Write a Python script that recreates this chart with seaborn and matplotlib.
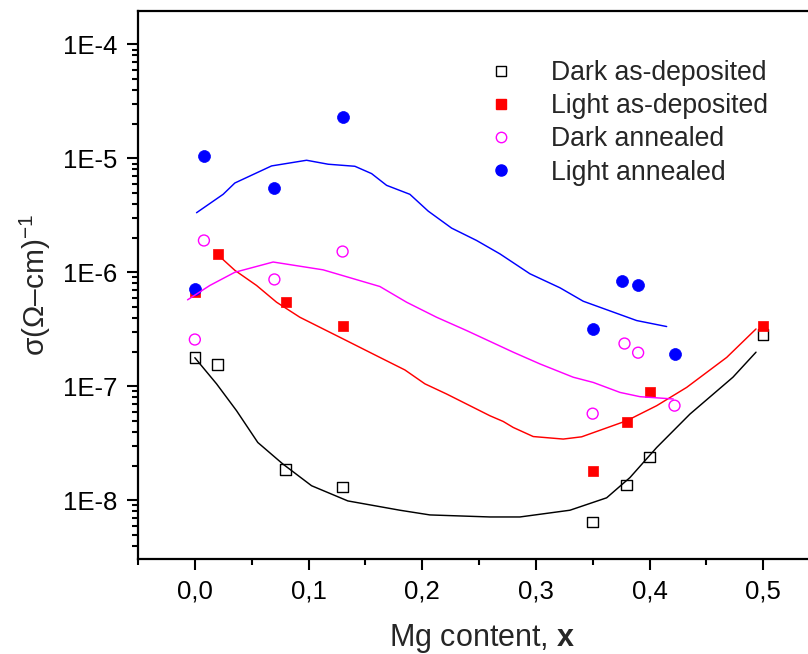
import numpy as np
import pandas as pd
import matplotlib
matplotlib.use("Agg")
import matplotlib.pyplot as plt
import seaborn as sns
from matplotlib.ticker import FixedLocator, FuncFormatter, LogLocator, NullFormatter
from matplotlib.lines import Line2D

# ---------------- data ----------------
x_pts = [0.0, 0.02, 0.08, 0.13, 0.35, 0.38, 0.40, 0.50]
dark_asdep = [1.78e-7, 1.55e-7, 1.85e-8, 1.31e-8, 6.45e-9, 1.36e-8, 2.4e-8, 2.85e-7]
light_asdep = [6.65e-7, 1.44e-6, 5.43e-7, 3.41e-7, 1.81e-8, 4.88e-8, 8.96e-8, 3.41e-7]

x_ann = [0.0, 0.008, 0.07, 0.13, 0.35, 0.378, 0.39, 0.422]
dark_ann = [2.57e-7, 1.9e-6, 8.65e-7, 1.52e-6, 5.75e-8, 2.37e-7, 1.97e-7, 6.76e-8]
x_ann_l = [0.0, 0.008, 0.07, 0.13, 0.35, 0.376, 0.39, 0.422]
light_ann = [7.2e-7, 1.04e-5, 5.45e-6, 2.29e-5, 3.2e-7, 8.3e-7, 7.66e-7, 1.9e-7]

# fitted curves
fit_dark_asdep_x = [0.0, 0.0191, 0.0367, 0.0554, 0.0774, 0.1027, 0.1346, 0.1804, 0.2068,
                    0.2596, 0.286, 0.33, 0.3623, 0.3828, 0.4063, 0.4356, 0.4734, 0.4937]
fit_dark_asdep_y = [1.78e-7, 1.05e-7, 6.10e-8, 3.21e-8, 2.08e-8, 1.34e-8, 9.86e-9, 8.17e-9, 7.43e-9,
                    7.13e-9, 7.13e-9, 8.17e-9, 1.05e-8, 1.58e-8, 2.90e-8, 5.70e-8, 1.20e-7, 1.99e-7]

fit_light_asdep_x = [0.02, 0.0352, 0.0543, 0.0719, 0.0924, 0.1305, 0.1628, 0.1848, 0.2024, 0.2215,
                     0.2596, 0.2713, 0.2801, 0.2977, 0.3241, 0.3403, 0.3799, 0.4063, 0.4327,
                     0.4679, 0.4937]
fit_light_asdep_y = [1.43e-6, 1.04e-6, 7.66e-7, 5.46e-7, 4.03e-7, 2.60e-7, 1.79e-7, 1.39e-7, 1.05e-7, 8.55e-8,
                     5.51e-8, 4.91e-8, 4.35e-8, 3.62e-8, 3.44e-8, 3.60e-8, 4.98e-8, 6.75e-8, 9.77e-8,
                     1.79e-7, 3.18e-7]

fit_dark_ann_x = [-0.0064, 0.0132, 0.0352, 0.0689, 0.1129, 0.1628, 0.1863, 0.2127, 0.2391, 0.2801,
                  0.3036, 0.3329, 0.3505, 0.374, 0.3916, 0.4209]
fit_dark_ann_y = [5.73e-7, 7.66e-7, 1.0e-6, 1.23e-6, 1.05e-6, 7.5e-7, 5.46e-7, 4.03e-7, 3.08e-7, 1.99e-7,
                  1.57e-7, 1.20e-7, 1.08e-7, 8.83e-8, 8.1e-8, 7.73e-8]

fit_light_ann_x = [0.0015, 0.0249, 0.0352, 0.0675, 0.0983, 0.1173, 0.1408, 0.1555, 0.1687, 0.1892,
                   0.2053, 0.2259, 0.2479, 0.2684, 0.2948, 0.3212, 0.3417, 0.3887, 0.4151]
fit_light_ann_y = [3.33e-6, 4.83e-6, 6.07e-6, 8.57e-6, 9.61e-6, 8.87e-6, 8.51e-6, 7.34e-6, 5.79e-6, 4.83e-6,
                   3.44e-6, 2.44e-6, 1.90e-6, 1.45e-6, 9.7e-7, 7.31e-7, 5.57e-7, 3.77e-7, 3.34e-7]

labels = ["Dark as-deposited", "Light as-deposited", "Dark annealed", "Light annealed"]
x_ticks = [0.0, 0.1, 0.2, 0.3, 0.4, 0.5]
x_tick_labels = ["0,0", "0,1", "0,2", "0,3", "0,4", "0,5"]

# ---------------- style ----------------
sns.set_style("ticks")
plt.rcParams["font.family"] = ["Liberation Sans", "DejaVu Sans"]
plt.rcParams["mathtext.fontset"] = "custom"
plt.rcParams["mathtext.rm"] = "Liberation Sans"
plt.rcParams["mathtext.bf"] = "Liberation Sans:bold"
plt.rcParams["mathtext.it"] = "Liberation Sans:italic"

fig = plt.figure(figsize=(8.08, 6.54), dpi=100)
fig.patch.set_facecolor("white")
ax = fig.add_axes([138 / 808, (654 - 559) / 654, (820 - 138) / 808, (559 - 11) / 654])
ax.patch.set_visible(False)

BLACK, RED, MAGENTA, BLUE = "#000000", "#ff0000", "#ff00ff", "#0000ff"

# scatter markers
sns.scatterplot(x=x_pts, y=dark_asdep, marker="s", s=58, facecolors="none",
                edgecolor=BLACK, linewidth=1.0, ax=ax, zorder=3)
sns.scatterplot(x=x_pts, y=light_asdep, marker="s", s=62, color=RED,
                edgecolor=RED, linewidth=0.5, ax=ax, zorder=3)
sns.scatterplot(x=x_ann, y=dark_ann, marker="o", s=62, facecolors="none",
                edgecolor=MAGENTA, linewidth=1.0, ax=ax, zorder=3)
sns.scatterplot(x=x_ann_l, y=light_ann, marker="o", s=74, color=BLUE,
                edgecolor=BLUE, linewidth=0.5, ax=ax, zorder=4)

# fitted lines
for fx, fy, c in [(fit_dark_asdep_x, fit_dark_asdep_y, BLACK),
                  (fit_light_asdep_x, fit_light_asdep_y, RED),
                  (fit_dark_ann_x, fit_dark_ann_y, MAGENTA),
                  (fit_light_ann_x, fit_light_ann_y, BLUE)]:
    sns.lineplot(x=fx, y=fy, color=c, linewidth=1.05, sort=False, estimator=None,
                 ax=ax, zorder=5)

ax.set_yscale("log")
ax.set_xlim(-0.05, 0.55)
ax.set_ylim(3.05e-9, 1.96e-4)

ax.xaxis.set_major_locator(FixedLocator(x_ticks))
ax.set_xticklabels(x_tick_labels)
ax.xaxis.set_minor_locator(FixedLocator(np.arange(-0.05, 0.56, 0.1)))
ax.yaxis.set_major_locator(LogLocator(base=10, numticks=20))
ax.yaxis.set_minor_locator(LogLocator(base=10, subs=np.arange(2, 10), numticks=50))
ax.yaxis.set_minor_formatter(NullFormatter())
ax.yaxis.set_major_formatter(FuncFormatter(lambda v, p: f"1E{int(round(np.log10(v)))}"))

ax.tick_params(axis="both", which="major", direction="out", length=8, width=1.5,
               labelsize=18.5, colors="black", pad=7)
ax.tick_params(axis="both", which="minor", direction="out", length=4.5, width=1.5,
               colors="black")
for name, sp in ax.spines.items():
    sp.set_linewidth(1.6)
    sp.set_color("black")
ax.spines["right"].set_visible(False)

ax.set_xlabel("Mg content, $\\mathbf{x}$", fontsize=22, labelpad=12)
ax.xaxis.set_label_coords((482 - 138) / (820 - 138), -0.115)
ax.set_ylabel("σ(Ω–cm)$^{\\mathregular{-1}}$", fontsize=21.5, labelpad=7)

handles = [
    Line2D([], [], marker="s", ls="none", mfc="none", mec=BLACK, ms=7, mew=1.0),
    Line2D([], [], marker="s", ls="none", mfc=RED, mec=RED, ms=7),
    Line2D([], [], marker="o", ls="none", mfc="none", mec=MAGENTA, ms=7.5, mew=1.0),
    Line2D([], [], marker="o", ls="none", mfc=BLUE, mec=BLUE, ms=8),
]
ax.legend(handles, labels, loc="upper left", bbox_to_anchor=(488 / 808, 1 - 60 / 654),
          bbox_transform=fig.transFigure, frameon=False, fontsize=19.2,
          handlelength=1.0, handletextpad=1.36, labelspacing=0.27,
          borderpad=0, borderaxespad=0)

fig.savefig("out.png", dpi=100, facecolor="white")
